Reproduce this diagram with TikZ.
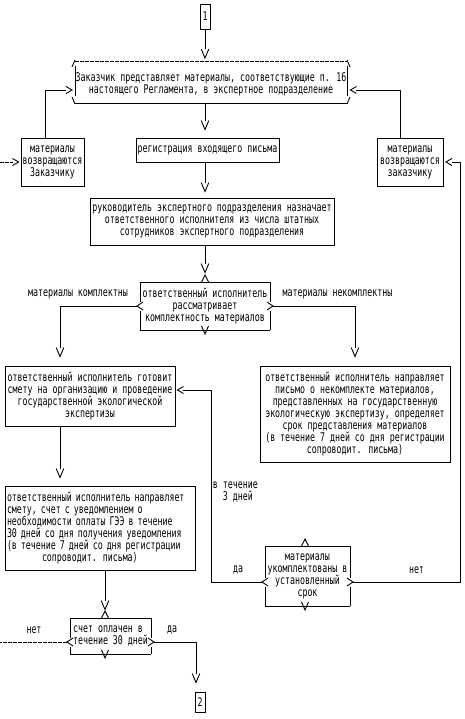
\documentclass[tikz,border=0pt]{standalone}
\usepackage{fontspec}
\setmainfont[FakeStretch=0.69]{DejaVu Sans Mono}
\usetikzlibrary{arrows.meta}

\pgfdeclarearrow{
  name = vglyph,
  setup code = {
    \pgfarrowssettipend{0pt}
    \pgfarrowssetbackend{-9pt}
    \pgfarrowssetlineend{-9pt}
    \pgfarrowshullpoint{0pt}{0pt}
    \pgfarrowshullpoint{-9pt}{4pt}
    \pgfarrowshullpoint{-9pt}{-4pt}
  },
  drawing code = {
    \pgfsetdash{}{0pt}
    \pgfpathmoveto{\pgfqpoint{-9pt}{3.8pt}}
    \pgfpathlineto{\pgfqpoint{0pt}{0pt}}
    \pgfpathlineto{\pgfqpoint{-9pt}{-3.8pt}}
    \pgfusepathqstroke
  }
}
\pgfdeclarearrow{
  name = hglyph,
  setup code = {
    \pgfarrowssettipend{0pt}
    \pgfarrowssetbackend{-6pt}
    \pgfarrowssetlineend{-6pt}
    \pgfarrowshullpoint{0pt}{0pt}
    \pgfarrowshullpoint{-6pt}{3.5pt}
    \pgfarrowshullpoint{-6pt}{-3.5pt}
  },
  drawing code = {
    \pgfsetdash{}{0pt}
    \pgfpathmoveto{\pgfqpoint{-6pt}{3.5pt}}
    \pgfpathlineto{\pgfqpoint{0pt}{0pt}}
    \pgfpathlineto{\pgfqpoint{-6pt}{-3.5pt}}
    \pgfusepathqstroke
  }
}

% decision frame: L R T B chevron-x side-y
\newcommand\decframe[6]{%
  \draw (#1,#3) -- (#2,#3);
  \draw (#5-3.5,#3) -- (#5,#3-7) -- (#5+3.5,#3);
  \draw (#1,#4) -- (#2,#4);
  \draw (#5-3.5,#4-4) -- (#5,#4+4) -- (#5+3.5,#4-4);
  \draw (#1,#3) -- (#1,#6-4.5) (#1,#6+4.5) -- (#1,#4);
  \draw (#1+3,#6-4) -- (#1-3,#6) -- (#1+3,#6+4);
  \draw (#2,#3) -- (#2,#6-4.5) (#2,#6+4.5) -- (#2,#4);
  \draw (#2-3,#6-4) -- (#2+3,#6) -- (#2-3,#6+4);
}

\begin{document}
\begin{tikzpicture}[x=1pt,y=-1pt,line width=0.9pt,
  every node/.style={font=\fontsize{12}{12}\selectfont, inner sep=0pt},
  box/.style={draw, align=center},
  plain/.style={align=center},
  vconn/.style={-vglyph},
  hconn/.style={-hglyph},
  dashconn/.style={dash pattern=on 4pt off 1pt}]
\useasboundingbox[fill=white] (0,0) rectangle (465,719);

% nodes
\node[box, minimum width=10, minimum height=25] (box1) at (205,16.5) {1};
\node[plain, minimum width=272, minimum height=38] (main) at (211,84)
  {Заказчик представляет материалы, соответствующие п. 16\\настоящего Регламента, в экспертное подразделение};
\node[box, minimum width=63, minimum height=48] (lret) at (52.5,162)
  {материалы\\возвращаются\\Заказчику};
\node[box, minimum width=143, minimum height=24] (reg) at (207.5,150)
  {регистрация входящего письма};
\node[box, minimum width=66, minimum height=48] (rret) at (410,162)
  {материалы\\возвращаются\\заказчику};
\node[box, minimum width=244, minimum height=47] (ruk) at (212,221.5)
  {руководитель экспертного подразделения назначает\\ответственного исполнителя из числа штатных\\сотрудников экспертного подразделения};
\node[plain, minimum width=130, minimum height=48] (dec1) at (205,306)
  {ответственный исполнитель\\рассматривает\\комплектность материалов};
\node (lblk) at (78,294) {материалы комплектны};
\node (lblnk) at (337.5,294) {материалы некомплектны};
\node[box, minimum width=170, minimum height=60] (smeta) at (90,396)
  {ответственный исполнитель готовит\\смету на организацию и проведение\\государственной экологической\\экспертизы};
\node[box, minimum width=190, minimum height=96] (nek) at (355,414)
  {ответственный исполнитель направляет\\письмо о некомплекте материалов,\\представленных на государственную\\экологическую экспертизу, определяет\\срок представления материалов\\(в течение 7 дней со дня регистрации\\сопроводит. письма)};
\node[draw, align=left, text width=186, minimum width=190, minimum height=84] (schet) at (100,528)
  {ответственный исполнитель направляет\\смету, счет с уведомлением о\\необходимости оплаты ГЭЭ в течение\\30 дней со дня получения уведомления\\(в течение 7 дней со дня регистрации\\\hspace*{35pt}сопроводит. письма)};
\node[anchor=west, align=left] (lbl3) at (212.5,492) {в течение\\\hspace*{10pt}3 дней};
\node[plain, minimum width=85, minimum height=60] (dec2) at (307.5,576)
  {материалы\\укомплектованы в\\установленный\\срок};
\node (lblda2) at (238,570) {да};
\node (lblnet2) at (416.5,570) {нет};
\node[align=left, minimum width=81, minimum height=36] (dec3) at (110.5,636)
  {счет оплачен в\\течение 30 дней};
\node (lblnet3) at (34,630) {нет};
\node (lblda3) at (172,630) {да};
\node[box, minimum width=10, minimum height=20] (box2) at (200,702) {2};

% main frame
\draw[dashconn] (75,61) -- (347,61);
\draw (72,67) -- (75,60);
\draw (347,60) -- (350,67);
\draw (75,66) -- (75,96);
\draw (347,66) -- (347,96);
\draw (72,97) -- (75,104);
\draw (350,97) -- (347,104);
\draw (75,103.5) -- (347,103.5);

% decision frames
\decframe{140}{270}{282}{330}{205}{306}
\decframe{265}{350}{546}{606}{305}{582}
\decframe{70}{151}{618}{654}{105}{642}

% coordinates
\coordinate (d1l) at (137,306);
\coordinate (d1r) at (273,306);
\coordinate (d2l) at (262,582);
\coordinate (d2r) at (353,582);
\coordinate (d3l) at (67,642);
\coordinate (d3r) at (154,642);
\coordinate (rc) at (460,162);
\coordinate (lc) at (211,390);
\coordinate (lin) at (0,162);
\coordinate (lout) at (0,642);

% connectors
\draw[vconn, shorten >=6.5pt] (box1.south) -- ([xshift=-6pt]main.north);
\draw[vconn, shorten >=8pt] ([xshift=-6pt]main.south) -- ([xshift=-2.5pt]reg.north);
\draw[vconn, shorten >=6pt] ([xshift=-2.5pt]reg.south) -- ([xshift=-7pt]ruk.north);
\draw[vconn, shorten >=9pt] ([xshift=-7pt]ruk.south) -- (dec1.north);
\draw[vconn, shorten >=9pt] (d1l) -| ([xshift=-30pt]smeta.north);
\draw[vconn, shorten >=9pt] (d1r) -| (nek.north);
\draw[vconn, shorten >=8pt] ([xshift=-30pt]smeta.south) -- ([xshift=-40pt]schet.north);
\draw[vconn, shorten >=8pt] ([xshift=5pt]schet.south) -- ([xshift=-5.5pt]dec3.north);
\draw[vconn, shorten >=9pt] (d3r) -| ([xshift=-4pt]box2.north);
\draw[dashconn] (d3l) -- (lout);
\draw[dashconn, hconn, shorten >=2pt] (lin) -- (lret.west);
\draw[hconn, shorten >=2.5pt] ([xshift=-7.5pt]lret.north) |- ([yshift=-6pt]main.west);
\draw[hconn, shorten >=3pt] ([xshift=-10pt]rret.north) |- ([yshift=-6pt]main.east);
\draw[hconn, shorten >=2.5pt] (d2r) -| (rc) -- (rret.east);
\draw[hconn, shorten >=2pt] (d2l) -| (lc) -- ([yshift=6pt]smeta.east);
\end{tikzpicture}
\end{document}
